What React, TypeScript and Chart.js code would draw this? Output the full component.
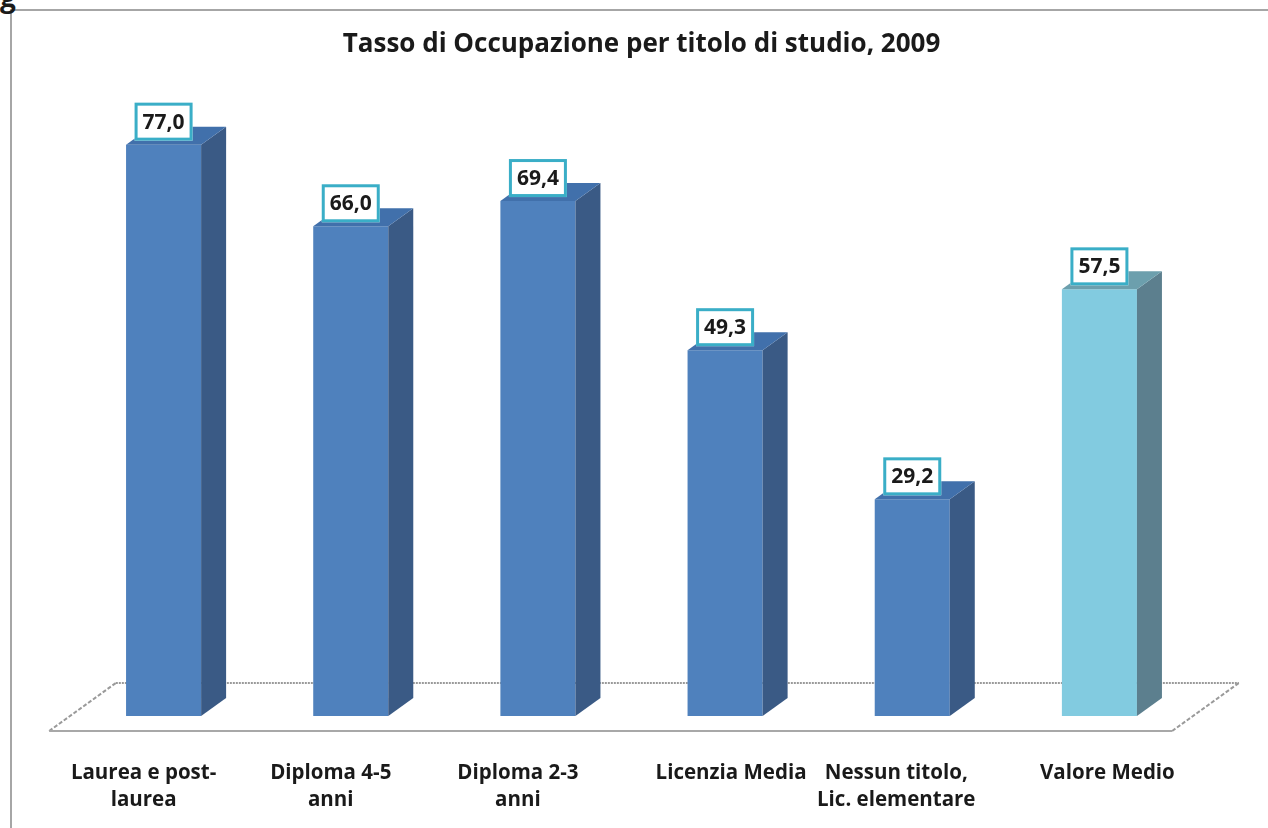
import React, { useEffect, useRef } from "react";
import { Chart, registerables } from "chart.js";

Chart.register(...registerables);

const chartTitle = "Tasso di Occupazione per titolo di studio, 2009";
const categories: string[][] = [
  ["Laurea e post-", "laurea"],
  ["Diploma 4-5", "anni"],
  ["Diploma 2-3", "anni"],
  ["Licenzia Media"],
  ["Nessun titolo,", "Lic. elementare"],
  ["Valore Medio"],
];
const values: number[] = [77.0, 66.0, 69.4, 49.3, 29.2, 57.5];
const averageIndex = 5;

const FONT = "'Open Sans', 'Liberation Sans', sans-serif";
const BLUE = { front: "#4f81bd", side: "#3a5a85", top: "#4170ab" };
const CYAN = { front: "#82cbe0", side: "#5c7f8e", top: "#6c9fad" };
const DX = 25;
const DY = 18;

const fmt = (v: number) => v.toFixed(1).replace(".", ",");

const bar3dPlugin = {
  id: "bar3d",
  beforeDatasetsDraw(chart: any) {
    const ctx = chart.ctx as CanvasRenderingContext2D;
    const { left, right } = chart.chartArea;
    const base = chart.scales.y.getPixelForValue(0);
    const r = DX / DY;
    const fy = base + 15;
    const by = base - 33;
    const fl = left - 15 * r, fr = right - 15 * r;
    const bl = left + 33 * r, br = right + 33 * r;
    ctx.save();
    ctx.strokeStyle = "#9a9a9a";
    ctx.lineWidth = 2;
    ctx.setLineDash([2, 1]);
    ctx.beginPath();
    ctx.moveTo(bl, by);
    ctx.lineTo(br, by);
    ctx.stroke();
    ctx.setLineDash([4, 2]);
    ctx.beginPath();
    ctx.moveTo(fl, fy);
    ctx.lineTo(bl, by);
    ctx.moveTo(fr, fy);
    ctx.lineTo(br, by);
    ctx.stroke();
    ctx.setLineDash([]);
    ctx.strokeStyle = "#a8a8a8";
    ctx.beginPath();
    ctx.moveTo(fl, fy);
    ctx.lineTo(fr, fy);
    ctx.stroke();
    ctx.restore();
  },
  afterDatasetsDraw(chart: any) {
    const ctx = chart.ctx as CanvasRenderingContext2D;
    const meta = chart.getDatasetMeta(0);
    ctx.save();
    meta.data.forEach((el: any, i: number) => {
      const c = i === averageIndex ? CYAN : BLUE;
      const x1 = el.x - el.width / 2;
      const x2 = el.x + el.width / 2;
      const y = el.y;
      const base = el.base;
      ctx.fillStyle = c.side;
      ctx.beginPath();
      ctx.moveTo(x2, y);
      ctx.lineTo(x2 + DX, y - DY);
      ctx.lineTo(x2 + DX, base - DY);
      ctx.lineTo(x2, base);
      ctx.closePath();
      ctx.fill();
      ctx.fillStyle = c.top;
      ctx.beginPath();
      ctx.moveTo(x1, y);
      ctx.lineTo(x1 + DX, y - DY);
      ctx.lineTo(x2 + DX, y - DY);
      ctx.lineTo(x2, y);
      ctx.closePath();
      ctx.fill();
    });
    // value labels
    ctx.font = `bold 21px ${FONT}`;
    ctx.textAlign = "center";
    ctx.textBaseline = "middle";
    meta.data.forEach((el: any, i: number) => {
      const txt = fmt(values[i]);
      const w = 58;
      const h = 38;
      const bx = el.x - w / 2;
      const by = el.y - 4 - h;
      ctx.fillStyle = "#ffffff";
      ctx.fillRect(bx, by, w, h);
      ctx.strokeStyle = "#3aaec7";
      ctx.lineWidth = 3;
      ctx.strokeRect(bx + 1.5, by + 1.5, w - 3, h - 3);
      ctx.fillStyle = "#1a1a1a";
      ctx.fillText(txt, el.x, by + h / 2 + 1);
    });
    ctx.restore();
  },
  afterDraw(chart: any) {
    const ctx = chart.ctx as CanvasRenderingContext2D;
    const xs = chart.scales.x;
    const nudge = [0, 0, 0, 26, 4, 28];
    ctx.save();
    ctx.fillStyle = "#1a1a1a";
    ctx.textAlign = "center";
    ctx.textBaseline = "middle";
    ctx.font = `bold 26px ${FONT}`;
    ctx.fillText(chartTitle, chart.width / 2 + 7.5, 45);
    ctx.font = `bold 20.5px ${FONT}`;
    categories.forEach((lines, i) => {
      const cx = xs.getPixelForValue(i) - 20 + nudge[i];
      lines.forEach((ln, j) => {
        ctx.fillText(ln, cx, 773 + j * 27);
      });
    });
    ctx.restore();
  },
};

export default function App() {
  const ref = useRef<HTMLCanvasElement | null>(null);
  useEffect(() => {
    if (!ref.current) return;
    const chart = new Chart(ref.current, {
      type: "bar",
      data: {
        labels: categories.map((c) => c.join(" ")),
        datasets: [
          {
            data: values,
            backgroundColor: (c: any) => (c.dataIndex === averageIndex ? CYAN.front : BLUE.front),
            borderWidth: 0,
            barPercentage: 0.401,
            categoryPercentage: 1,
          },
        ],
      },
      options: {
        responsive: false,
        animation: false,
        layout: { padding: { left: 70, right: 75, top: 122.4, bottom: 0 } },
        plugins: {
          legend: { display: false },
          tooltip: { enabled: false },
          title: { display: false },
        },
        scales: {
          x: {
            display: true,
            grid: { display: false },
            border: { display: false },
            ticks: { display: false },
            afterFit: (s: any) => {
              s.height = 112;
            },
          },
          y: {
            display: false,
            min: 0,
            max: 80,
          },
        },
      },
      plugins: [bar3dPlugin],
    } as any);
    return () => chart.destroy();
  }, []);
  return (
    <div
      style={{
        position: "fixed",
        left: 0,
        top: 0,
        width: 1268,
        height: 828,
        overflow: "hidden",
        background: "#fff",
      }}
    >
      <div
        style={{
          position: "absolute",
          left: 10,
          top: 9,
          width: 1300,
          height: 900,
          borderLeft: "2px solid #a6a6a6",
          borderTop: "2px solid #a6a6a6",
          boxSizing: "border-box",
        }}
      />
      <div
        style={{
          position: "absolute",
          left: 0,
          top: -19,
          fontFamily: FONT,
          fontWeight: "bold",
          fontSize: 28,
          color: "#1a1a1a",
          lineHeight: "30px",
        }}
      >
        g
      </div>
      <canvas
        ref={ref}
        width={1268}
        height={828}
        style={{ position: "absolute", left: 0, top: 0 }}
      />
    </div>
  );
}
